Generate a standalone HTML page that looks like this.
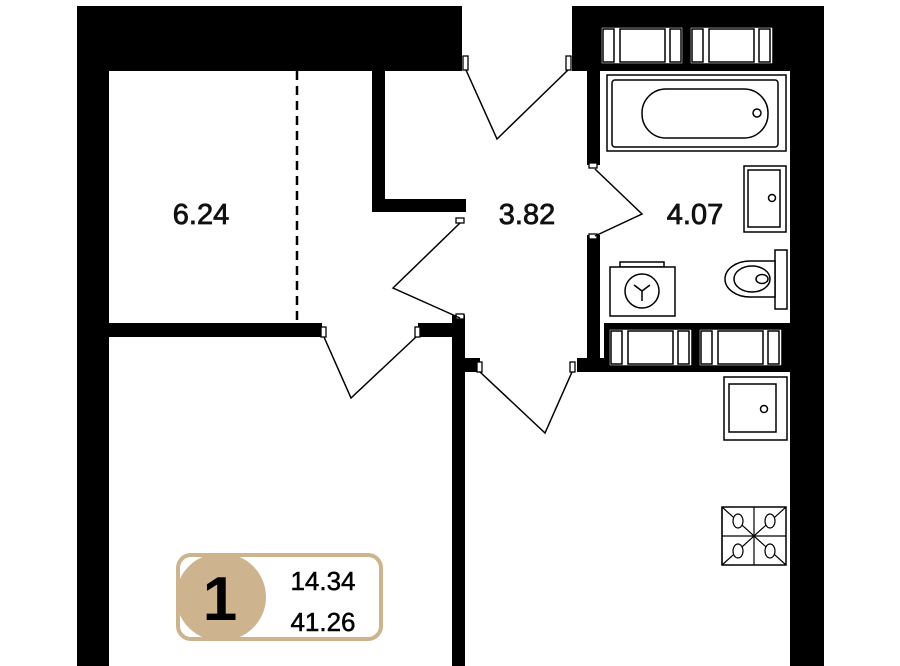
<!DOCTYPE html>
<html><head><meta charset="utf-8"><style>html,body{margin:0;padding:0;background:#fff}svg{display:block}</style></head>
<body>
<svg width="900" height="666" viewBox="0 0 900 666" xmlns="http://www.w3.org/2000/svg" font-family="Liberation Sans, sans-serif">
<g fill="#000">
<rect x="77" y="6" width="385" height="65"/>
<rect x="77" y="6" width="32" height="660"/>
<rect x="572" y="6" width="252" height="65"/>
<rect x="790" y="6" width="34" height="660"/>
<rect x="587" y="71" width="13" height="94"/>
<rect x="587" y="235" width="13" height="137"/>
<rect x="577" y="358" width="213" height="14"/>
<rect x="604" y="323" width="186" height="40"/>
<rect x="372" y="71" width="13" height="141"/>
<rect x="372" y="199" width="94" height="13"/>
<rect x="109" y="323" width="213" height="14"/>
<rect x="418" y="323" width="47" height="14"/>
<rect x="452" y="315" width="13" height="351"/>
<rect x="452" y="358" width="28" height="14"/>
</g>
<g fill="#fff" stroke="#000" stroke-width="1.3">
<rect x="463" y="56" width="5" height="14"/>
<rect x="566" y="56" width="5" height="14"/>
<rect x="589" y="163" width="8" height="5"/>
<rect x="589" y="234" width="8" height="5"/>
<rect x="456" y="218" width="8" height="5"/>
<rect x="456" y="314" width="8" height="5"/>
<rect x="321" y="327" width="5" height="10"/>
<rect x="415" y="327" width="5" height="10"/>
<rect x="477" y="362" width="5" height="10"/>
<rect x="570" y="362" width="5" height="10"/>
</g>
<g fill="none" stroke="#000" stroke-width="1.5">
<polyline points="466,70 497,139 568,70"/>
<polyline points="595,169 642,214 595,236"/>
<polyline points="460,223 393,288 460,318"/>
<polyline points="324,337 351,398 416,337"/>
<polyline points="480,372 545,433 572,372"/>
<line x1="297" y1="71" x2="297" y2="323" stroke-width="2.5" stroke-dasharray="9,6"/>
</g>
<g fill="#fff" stroke="#000" stroke-width="1.5">
<rect x="601" y="27" width="82" height="37"/>
<rect x="603" y="29" width="11" height="33"/>
<rect x="620" y="29" width="45" height="33"/>
<rect x="670" y="29" width="11" height="33"/>
<rect x="690" y="27" width="83" height="37"/>
<rect x="692" y="29" width="11" height="33"/>
<rect x="709" y="29" width="45" height="33"/>
<rect x="759" y="29" width="11" height="33"/>
<rect x="607" y="75" width="179" height="76"/>
<rect x="612" y="80" width="166" height="67" rx="3"/>
<rect x="642" y="89" width="126" height="49" rx="24"/>
<circle cx="757" cy="113" r="4"/>
<rect x="744" y="166" width="42" height="66"/>
<rect x="748" y="170" width="32" height="57"/>
<circle cx="772" cy="198" r="3.5"/>
<rect x="775" y="250" width="12" height="59"/>
<path d="M775,261 H750 A25,18 0 0 0 750,297 H775 Z"/>
<ellipse cx="752" cy="279" rx="18" ry="13"/>
<ellipse cx="762" cy="279" rx="6" ry="4.5"/>
<rect x="620" y="262" width="44" height="5"/>
<rect x="610" y="267" width="65" height="49"/>
<circle cx="642" cy="291" r="17"/>
<path d="M642,291 V301 M642,291 L634,285 M642,291 L650,285"/>
<rect x="609" y="329" width="83" height="37"/>
<rect x="611" y="331" width="11" height="33"/>
<rect x="628" y="331" width="45" height="33"/>
<rect x="678" y="331" width="11" height="33"/>
<rect x="699" y="329" width="83" height="37"/>
<rect x="701" y="331" width="11" height="33"/>
<rect x="718" y="331" width="45" height="33"/>
<rect x="768" y="331" width="11" height="33"/>
<rect x="724" y="377" width="63" height="63"/>
<rect x="729" y="384" width="47" height="48"/>
<circle cx="764" cy="409" r="3.5"/>
<rect x="722" y="507" width="64" height="58"/>
</g>
<g fill="none" stroke="#000" stroke-width="1.2">
<line x1="754" y1="507" x2="754" y2="565"/>
<line x1="722" y1="536" x2="786" y2="536"/>
<path d="M722,507 L754,536 L786,507 M722,565 L754,536 L786,565 M722,507 L722,565"/>
<ellipse cx="738" cy="521" rx="5" ry="7" fill="#fff"/>
<ellipse cx="770" cy="521" rx="5" ry="7" fill="#fff"/>
<ellipse cx="738" cy="551" rx="5" ry="7" fill="#fff"/>
<ellipse cx="770" cy="551" rx="5" ry="7" fill="#fff"/>
</g>
<g font-size="29" fill="#111" stroke="#111" stroke-width="0.8" text-anchor="middle">
<text x="201" y="224">6.24</text>
<text x="527" y="224">3.82</text>
<text x="695" y="224">4.07</text>
</g>
<rect x="178" y="555" width="203" height="84" rx="13" fill="#fff" stroke="#cdb38e" stroke-width="4"/>
<ellipse cx="221" cy="597" rx="45" ry="44" fill="#cdb38e"/>
<text x="220" y="620" font-size="62" font-weight="bold" text-anchor="middle" fill="#000">1</text>
<text x="323" y="590" font-size="26" text-anchor="middle" fill="#000" stroke="#000" stroke-width="0.5">14.34</text>
<text x="323" y="631" font-size="26" text-anchor="middle" fill="#000" stroke="#000" stroke-width="0.5">41.26</text>
</svg>
</body></html>
